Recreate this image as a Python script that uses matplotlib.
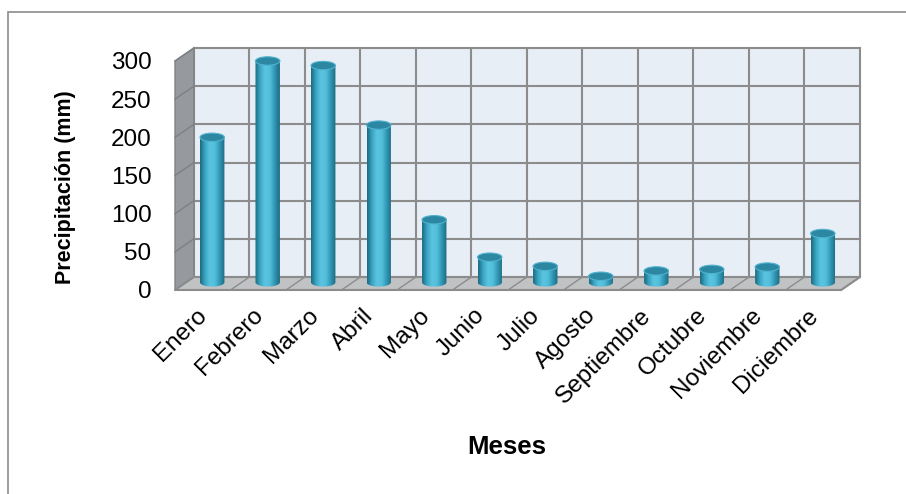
import numpy as np
import matplotlib
matplotlib.use('Agg')
import matplotlib.pyplot as plt
from matplotlib.patches import Polygon, Ellipse, PathPatch, Rectangle
from matplotlib.path import Path
from matplotlib.colors import LinearSegmentedColormap

# monthly rainfall (mm)
meses = ['Enero', 'Febrero', 'Marzo', 'Abril', 'Mayo', 'Junio', 'Julio',
         'Agosto', 'Septiembre', 'Octubre', 'Noviembre', 'Diciembre']
precipitacion = [190, 290, 284, 206, 82, 33, 21, 8, 15, 17, 20, 64]
yticks = [0, 50, 100, 150, 200, 250, 300]

plt.rcParams['font.family'] = ['Liberation Sans', 'DejaVu Sans']

DX, DY = 0.34, 17      # depth offset of the back wall (data units)
n = len(meses)
ymax = yticks[-1]
grid_c = '#8C8C8C'

fig = plt.figure(figsize=(9.06, 4.94), dpi=100)
ax = fig.add_axes([175 / 906, 1 - 290 / 494, 685 / 906, 242 / 494])

# back wall with grid
ax.add_patch(Rectangle((DX, DY), n, ymax, fc='#E7EEF5', ec='none', zorder=1, clip_on=False))
for v in yticks:
    ax.plot([DX, n + DX], [v + DY] * 2, color=grid_c, lw=1.5, zorder=2, clip_on=False)
for i in range(n + 1):
    ax.plot([i + DX] * 2, [DY, ymax + DY], color=grid_c, lw=1.5, zorder=2, clip_on=False)

# left side wall
ax.add_patch(Polygon([(0, 0), (DX, DY), (DX, ymax + DY), (0, ymax)],
                     fc='#96999D', ec='#808285', lw=1, zorder=3, clip_on=False))
for v in yticks:
    ax.plot([0, DX], [v, v + DY], color='#7E8083', lw=1, zorder=3, clip_on=False)

# floor
ax.add_patch(Polygon([(0, 0), (n, 0), (n + DX, DY), (DX, DY)],
                     fc='#C0C2C4', ec=grid_c, lw=1.5, zorder=3, clip_on=False))
for i in range(n + 1):
    ax.plot([i, i + DX], [0, DY], color='#8A8C8E', lw=1, zorder=3, clip_on=False)

# cylinders
cmap = LinearSegmentedColormap.from_list(
    'cyl', ['#1C6A80', '#3BA6C5', '#5BC5E1', '#52BEDB', '#3096B3', '#1C6A80'])
grad = np.linspace(0, 1, 64).reshape(1, -1)
w, h, base = 0.44, 11, 10
theta = np.linspace(np.pi, 2 * np.pi, 40)
for i, v in enumerate(precipitacion):
    cx = i + 0.5 + DX / 2
    top = base + v
    arc = np.column_stack([cx + w / 2 * np.cos(theta), base + h / 2 * np.sin(theta)])
    verts = [(cx - w / 2, top)] + arc.tolist() + [(cx + w / 2, top), (cx - w / 2, top)]
    body = PathPatch(Path(verts, closed=True), transform=ax.transData)
    im = ax.imshow(grad, cmap=cmap, extent=[cx - w / 2, cx + w / 2, base - h / 2, top],
                   aspect='auto', zorder=5, interpolation='bicubic')
    im.set_clip_path(body)
    ax.add_patch(Ellipse((cx, top), w, h, fc='#2C88A2', ec='#4FB2CE', lw=0.8, zorder=6))

ax.set_xlim(0, n + DX)
ax.set_ylim(0, ymax + DY)
ax.patch.set_visible(False)
for s in ax.spines.values():
    s.set_visible(False)

ax.set_yticks(yticks)
ax.set_yticklabels([str(t) for t in yticks], fontsize=17.5)
ax.tick_params(axis='y', length=0, pad=17)
ax.set_xticks(np.arange(n) + 0.52)
ax.set_xticklabels(meses, rotation=45, ha='right', va='center',
                   rotation_mode='anchor', fontsize=17.5)
ax.tick_params(axis='x', length=0, pad=16)

fig.text(65 / 906, 1 - 187 / 494, 'Precipitación (mm)', rotation=90, fontsize=15.5,
         fontweight='bold', ha='center', va='center')
fig.text(507 / 906, 1 - 447 / 494, 'Meses', fontsize=18.5, fontweight='bold',
         ha='center', va='center')

# chart area border
fig.add_artist(Rectangle((8 / 906, -0.05), 1.1, 1 - 12 / 494 + 0.05, transform=fig.transFigure,
                         fill=False, ec='#8C8C8C', lw=1.2))

fig.savefig('out.png', dpi=100)
